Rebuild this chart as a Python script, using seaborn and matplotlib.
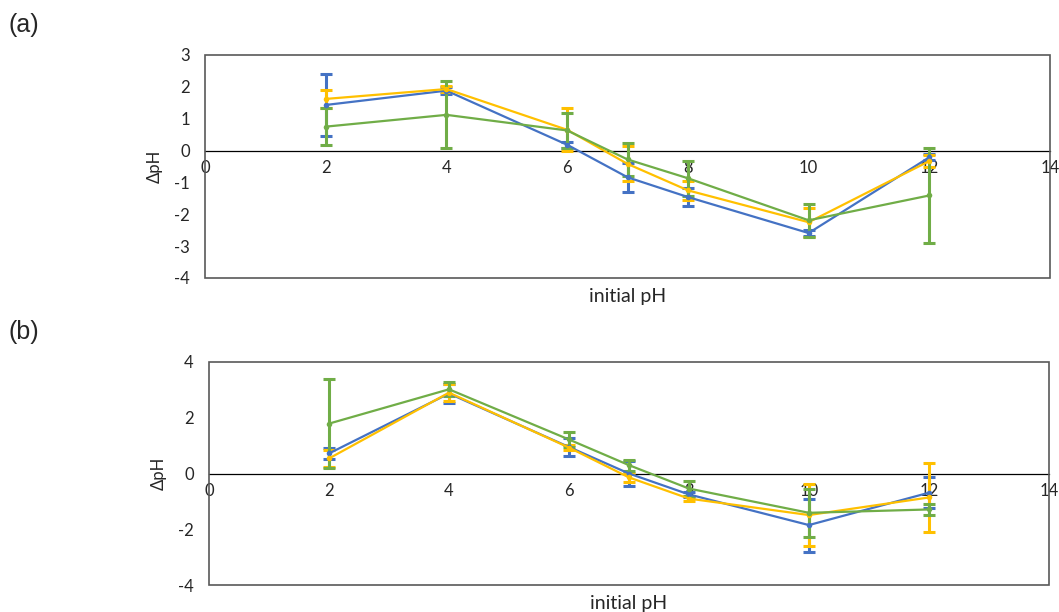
import numpy as np
import pandas as pd
import seaborn as sns
import matplotlib.pyplot as plt
from matplotlib.patches import Rectangle

# initial pH values (same for both panels)
x_ph = [2, 4, 6, 7, 8, 10, 12]

# panel (a)
a_blue = [1.43, 1.88, 0.18, -0.84, -1.46, -2.59, -0.21]
a_blue_err = [0.97, 0.10, 0.10, 0.45, 0.28, 0.10, 0.10]
a_yellow = [1.62, 1.93, 0.65, -0.42, -1.25, -2.25, -0.33]
a_yellow_err = [0.28, 0.10, 0.68, 0.55, 0.30, 0.45, 0.20]
a_green = [0.75, 1.12, 0.63, -0.28, -0.87, -2.19, -1.41]
a_green_err = [0.57, 1.05, 0.55, 0.52, 0.55, 0.51, 1.49]

# panel (b)
b_blue = [0.72, 2.87, 0.95, 0.00, -0.75, -1.85, -0.69]
b_blue_err = [0.20, 0.35, 0.33, 0.45, 0.10, 0.95, 0.56]
b_yellow = [0.54, 2.90, 0.93, -0.14, -0.90, -1.49, -0.86]
b_yellow_err = [0.30, 0.30, 0.10, 0.15, 0.10, 1.10, 1.25]
b_green = [1.79, 3.02, 1.22, 0.30, -0.54, -1.41, -1.29]
b_green_err = [1.60, 0.25, 0.26, 0.20, 0.28, 0.85, 0.20]

series_names = ['s1', 's2', 's3']
colors = ['#4472C4', '#FFC000', '#70AD47']

sns.set_style('white')
plt.rcParams['font.family'] = ['Lato', 'DejaVu Sans']
plt.rcParams['axes.unicode_minus'] = False

fig = plt.figure(figsize=(10.59, 6.12), dpi=100)
ax_a = fig.add_axes([0.1936, 0.5458, 0.798, 0.3644])
ax_b = fig.add_axes([0.1974, 0.0441, 0.793, 0.3644])


def draw_panel(ax, ys, errs, ylim, yticks):
    df = pd.DataFrame({
        'pH': x_ph * 3,
        'dpH': ys[0] + ys[1] + ys[2],
        'series': np.repeat(series_names, len(x_ph)),
    })
    for name, y, e, c in zip(series_names, ys, errs, colors):
        ax.errorbar(x_ph, y, yerr=e, fmt='none', ecolor=c, elinewidth=2.2,
                    capsize=4, capthick=2.2, zorder=3)
    sns.lineplot(data=df, x='pH', y='dpH', hue='series', palette=colors,
                 marker='o', markersize=4, markeredgewidth=0, linewidth=1.6,
                 legend=False, ax=ax, zorder=4)

    ax.set_xlim(0, 14)
    ax.set_ylim(*ylim)
    ax.set_xticks(range(0, 15, 2))
    ax.set_yticks(yticks)
    ax.set_xlabel('')
    ax.set_ylabel('ΔpH', fontsize=12)
    ax.yaxis.set_label_coords(-0.05, 0.5)
    ax.tick_params(axis='both', length=0, labelsize=12)
    ax.tick_params(axis='x', pad=7)
    ax.tick_params(axis='y', pad=11)

    # x axis crosses at zero like the spreadsheet chart
    for s in ['top', 'right', 'left']:
        ax.spines[s].set_visible(False)
    ax.spines['bottom'].set_position(('data', 0))
    ax.spines['bottom'].set_color('black')
    ax.spines['bottom'].set_linewidth(0.9)
    ax.add_patch(Rectangle((0, 0), 1, 1, transform=ax.transAxes, fill=False,
                           edgecolor='#595959', linewidth=1.2, zorder=5,
                           clip_on=False))

    ax.text(0.5, -0.085, 'initial pH', transform=ax.transAxes, ha='center',
            va='center', fontsize=14)


draw_panel(ax_a, [a_blue, a_yellow, a_green],
           [a_blue_err, a_yellow_err, a_green_err], (-4, 3), range(-4, 4))
draw_panel(ax_b, [b_blue, b_yellow, b_green],
           [b_blue_err, b_yellow_err, b_green_err], (-4, 4), range(-4, 5, 2))

fig.text(8 / 1059, 1 - 25 / 612, '(a)', ha='left', va='center', fontsize=18,
         family=['Liberation Sans', 'DejaVu Sans'])
fig.text(8 / 1059, 1 - 332 / 612, '(b)', ha='left', va='center', fontsize=18,
         family=['Liberation Sans', 'DejaVu Sans'])

fig.savefig('out.png', dpi=100)
